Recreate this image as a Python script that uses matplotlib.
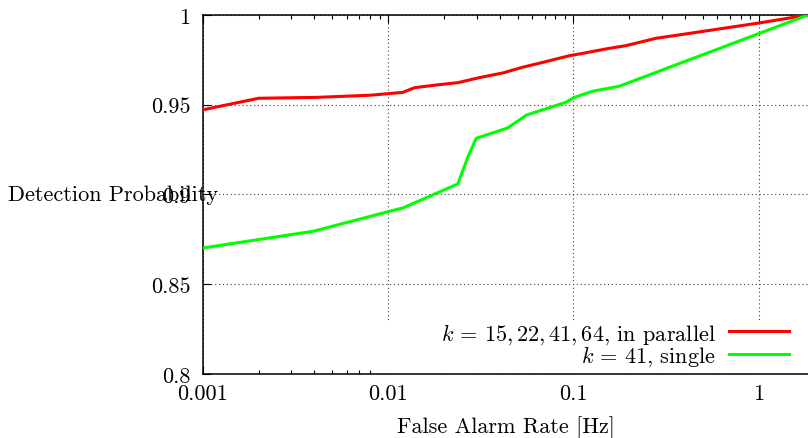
import matplotlib
matplotlib.use("Agg")
import matplotlib.pyplot as plt
from matplotlib.patches import Rectangle

plt.rcParams["font.family"] = "cmr10"
plt.rcParams["mathtext.fontset"] = "cm"
plt.rcParams["axes.formatter.use_mathtext"] = True

# ROC curves: false alarm rate [Hz] vs detection probability
far_parallel = [0.001, 0.002, 0.0041, 0.0080, 0.0120, 0.0139, 0.0182, 0.0238,
                0.0311, 0.0416, 0.0533, 0.0684, 0.0951, 0.108, 0.156, 0.192,
                0.279, 0.440, 1.0, 1.85]
pd_parallel = [0.9472, 0.9536, 0.9541, 0.9553, 0.9569, 0.9595, 0.9610, 0.9623,
               0.9651, 0.9677, 0.9709, 0.9736, 0.9773, 0.9783, 0.9814, 0.9829,
               0.9870, 0.9900, 0.9955, 1.0]

far_single = [0.001, 0.00393, 0.00998, 0.0120, 0.0238, 0.0269, 0.0299, 0.0440,
              0.0560, 0.0914, 0.101, 0.127, 0.177, 1.85]
pd_single = [0.8702, 0.8795, 0.8904, 0.8925, 0.9059, 0.9207, 0.9313, 0.9370,
             0.9443, 0.9514, 0.9541, 0.9575, 0.9603, 1.0]

xticks = [0.001, 0.01, 0.1, 1]
xticklabels = ["0.001", "0.01", "0.1", "1"]
yticks = [0.8, 0.85, 0.9, 0.95, 1.0]
yticklabels = ["0.8", "0.85", "0.9", "0.95", "1"]

fs = 16

fig = plt.figure(figsize=(8.08, 4.39), dpi=100)
ax = fig.add_axes([0.2512, 0.1458, 0.7488, 0.8178])

ax.plot(far_parallel, pd_parallel, color="#ff0000", lw=2.2,
        label=r"$k\,=\,15, 22, 41, 64$, in parallel", zorder=3)
ax.plot(far_single, pd_single, color="#00ff00", lw=2.2,
        label=r"$k\,=\,41$, single", zorder=3)

ax.set_xscale("log")
ax.set_xlim(0.001, 1.85)
ax.set_ylim(0.8, 1.0)
ax.set_xticks(xticks)
ax.set_xticklabels(xticklabels)
ax.set_yticks(yticks)
ax.set_yticklabels(yticklabels)

ax.tick_params(which="both", direction="in", top=True, right=False,
               labelsize=fs)
ax.tick_params(axis="x", pad=7)
ax.tick_params(axis="y", pad=9)
ax.tick_params(which="major", length=6, width=0.8)
ax.tick_params(which="minor", length=3, width=0.8)

ax.grid(True, which="major", linestyle=(0, (1, 2.5)), color="0.25", lw=0.8)
ax.spines["right"].set_visible(False)
for s in ["left", "top", "bottom"]:
    ax.spines[s].set_linewidth(1.1)

# opaque key area hides the grid behind it
ax.add_patch(Rectangle((0.28, 0.0), 0.72, 0.145, transform=ax.transAxes,
                       facecolor="white", edgecolor="none", zorder=2))

leg = ax.legend(loc="lower right", bbox_to_anchor=(0.995, -0.028), frameon=False,
                markerfirst=False, fontsize=fs, handlelength=2.7,
                handletextpad=0.6, labelspacing=-0.08, borderpad=0.2)

ax.set_xlabel("False Alarm Rate [Hz]", fontsize=fs, labelpad=9)
ax.set_ylabel("Detection Probability", fontsize=fs, rotation=0,
              ha="center", va="center")
ax.yaxis.set_label_coords(-0.149, 0.5)

fig.savefig("out.png", dpi=100)
